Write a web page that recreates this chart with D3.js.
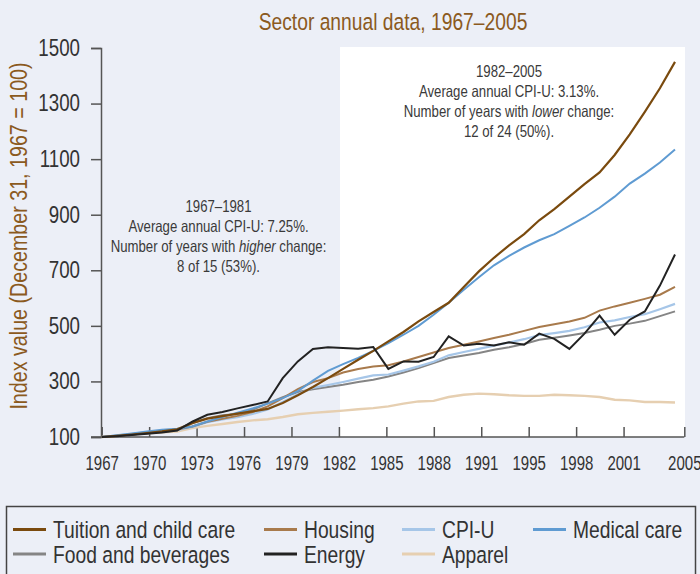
<!DOCTYPE html>
<html>
<head>
<meta charset="utf-8">
<script src="https://cdn.jsdelivr.net/npm/d3@7"></script>
<style>
  body { margin: 0; background: #eceff7; }
  svg { display: block; font-family: "Liberation Sans", Arial, sans-serif; }
</style>
</head>
<body>
<div id="chart"></div>
<script>
// annual index values, Dec 31 1967 = 100
var years = d3.range(1967, 2006);

var tuition = [100,104,109,114,120,128,150,166,175,184,192,201,222,250,280,312,345,378,410,444,478,516,550,583,640,696,745,790,830,880,920,965,1010,1052,1115,1189,1270,1355,1450];
var housing = [100,104,110,117,122,127,138,155,166,176,190,210,240,272,298,312,332,345,354,358,372,388,404,420,432,444,456,468,482,496,506,516,529,555,570,583,597,612,640];
var cpiu = [100,105,111,117,121,125,136,153,163,171,183,199,226,254,277,287,298,310,322,325,339,354,371,394,406,417,429,440,452,467,474,482,495,512,520,532,542,560,579];
var medical = [100,106,113,120,126,130,138,156,172,187,203,220,240,265,303,338,362,385,410,438,468,500,540,583,630,675,718,752,782,808,830,860,890,925,965,1012,1048,1088,1135];
var food = [100,103,109,115,118,124,150,168,178,183,198,221,243,262,272,280,288,298,306,318,332,348,366,384,393,402,414,423,435,450,457,465,474,486,500,508,518,535,552];
var energy = [100,103,107,112,116,123,155,180,190,203,215,228,312,372,417,423,420,418,424,345,372,371,388,462,429,436,429,441,432,472,453,417,472,537,468,522,552,645,757];
var apparel = [100,104,109,113,117,120,132,140,147,154,160,164,172,182,187,191,195,200,204,210,220,228,230,244,252,256,254,250,248,248,252,250,248,244,234,232,226,226,224];

var xTickLabels = ["1967","1970","1973","1976","1979","1982","1985","1988","1991","1995","1998","2001","2005"];
var yTicks = [100, 300, 500, 700, 900, 1100, 1300, 1500];

var series = [
  { name: "Apparel", values: apparel, color: "#e6cfb1", width: 2.4 },
  { name: "Food and beverages", values: food, color: "#858585", width: 2 },
  { name: "CPI-U", values: cpiu, color: "#a6c6e8", width: 2.2 },
  { name: "Housing", values: housing, color: "#a87a4c", width: 2 },
  { name: "Medical care", values: medical, color: "#5f9bd2", width: 2 },
  { name: "Tuition and child care", values: tuition, color: "#7a4a0e", width: 2.2 },
  { name: "Energy", values: energy, color: "#222222", width: 2 }
];

// legend order as in the picture, two rows
var legendRows = [
  ["Tuition and child care", "Housing", "CPI-U", "Medical care"],
  ["Food and beverages", "Energy", "Apparel"]
];

var width = 700,
  height = 574;

// no narrow font installed, so squeeze Liberation Sans sideways
var squeeze = 0.82;

var svg = d3.select("#chart")
  .append("svg")
  .attr("width", width)
  .attr("height", height);

var x = d3.scaleLinear().domain([1967, 2005]).range([101.7, 675]);
var y = d3.scaleLinear().domain([100, 1500]).range([437, 48]);

// the axis labels sit on their own even grid, last one at the axis end
var xAxisScale = d3.scaleLinear().domain([0, 12.28]).range([101.7, 684.3]);
var xTickSlots = xTickLabels.map(function(d, i) { return i < xTickLabels.length - 1 ? i : 12.28; });

function label(px, py, size, sx) {
  return svg.append("g")
    .attr("transform", "translate(" + px + "," + py + ") scale(" + sx + ",1)")
    .append("text")
    .style("font-size", size + "px");
}

// white panel for 1982-2005
svg.append("rect")
  .attr("x", 340)
  .attr("y", 47)
  .attr("width", 345)
  .attr("height", 390)
  .attr("fill", "#ffffff");

label(393, 30, 23.5, squeeze)
  .attr("text-anchor", "middle")
  .attr("fill", "#8b5a1e")
  .text("Sector annual data, 1967\u20132005");

svg.append("text")
  .attr("transform", "translate(27,236) rotate(-90) scale(" + squeeze + ",1)")
  .attr("text-anchor", "middle")
  .attr("fill", "#8b5a1e")
  .style("font-size", "24px")
  .text("Index value (December 31, 1967 = 100)");

// y axis
var yAxis = svg.append("g")
  .attr("transform", "translate(101,0)")
  .call(d3.axisLeft(y).tickValues(yTicks).tickSize(10).tickPadding(10).tickFormat(d3.format("d")));

yAxis.select(".domain").attr("stroke", "#555").attr("stroke-width", 1.5);
yAxis.selectAll(".tick line").attr("stroke", "#555").attr("stroke-width", 1.5);
yAxis.selectAll(".tick text")
  .attr("x", -21 / 0.815)
  .attr("transform", "scale(0.815,1)")
  .attr("fill", "#333")
  .style("font-size", "23px")
  .style("font-family", "inherit");

// x axis
var xAxis = svg.append("g")
  .attr("transform", "translate(0,437)")
  .call(d3.axisTop(xAxisScale).tickValues(xTickSlots).tickSize(10).tickSizeOuter(0)
    .tickFormat(function(d, i) { return xTickLabels[i]; }));

xAxis.select(".domain")
  .attr("d", "M91,0H684.3")
  .attr("stroke", "#555")
  .attr("stroke-width", 1.5);
xAxis.selectAll(".tick line").attr("stroke", "#555").attr("stroke-width", 1.5);
xAxis.selectAll(".tick text")
  .attr("y", 33)
  .attr("dy", 0)
  .attr("transform", "scale(0.77,1)")
  .attr("fill", "#333")
  .style("font-size", "19.5px")
  .style("font-family", "inherit");

// lines
var line = d3.line()
  .x(function(d, i) { return x(years[i]); })
  .y(function(d) { return y(d); });

svg.selectAll(".series")
  .data(series)
  .enter().append("path")
  .attr("class", "series")
  .attr("fill", "none")
  .attr("stroke", function(d) { return d.color; })
  .attr("stroke-width", function(d) { return d.width; })
  .attr("stroke-linejoin", "miter")
  .attr("d", function(d) { return line(d.values); });

// annotations
var notes = [
  { cx: 218.5, top: 211.5, lines: ["1967\u20131981", "Average annual CPI-U: 7.25%.", ["Number of years with ", "higher", " change:"], "8 of 15 (53%)."] },
  { cx: 509, top: 77, lines: ["1982\u20132005", "Average annual CPI-U: 3.13%.", ["Number of years with ", "lower", " change:"], "12 of 24 (50%)."] }
];

notes.forEach(function(n) {
  n.lines.forEach(function(l, i) {
    var t = label(n.cx, n.top + i * 20, 16.5, 0.8)
      .attr("text-anchor", "middle")
      .attr("fill", "#3a3a3a");
    if (typeof l === "string") {
      t.text(l);
    } else {
      t.append("tspan").text(l[0]);
      t.append("tspan").style("font-style", "italic").text(l[1]);
      t.append("tspan").text(l[2]);
    }
  });
});

// legend
svg.append("rect")
  .attr("x", 6.5)
  .attr("y", 506.5)
  .attr("width", 689)
  .attr("height", 90)
  .attr("fill", "none")
  .attr("stroke", "#444")
  .attr("stroke-width", 1.5);

var colX = [13, 264, 402, 533];
var rowY = [529.5, 554];
var byName = {};
series.forEach(function(s) { byName[s.name] = s; });

legendRows.forEach(function(row, r) {
  row.forEach(function(name, c) {
    svg.append("line")
      .attr("x1", colX[c]).attr("x2", colX[c] + 33)
      .attr("y1", rowY[r]).attr("y2", rowY[r])
      .attr("stroke", byName[name].color)
      .attr("stroke-width", 3);
    label(colX[c] + 40, rowY[r] + 8.5, 23.5, squeeze)
      .attr("fill", "#333")
      .text(name);
  });
});
</script>
</body>
</html>
